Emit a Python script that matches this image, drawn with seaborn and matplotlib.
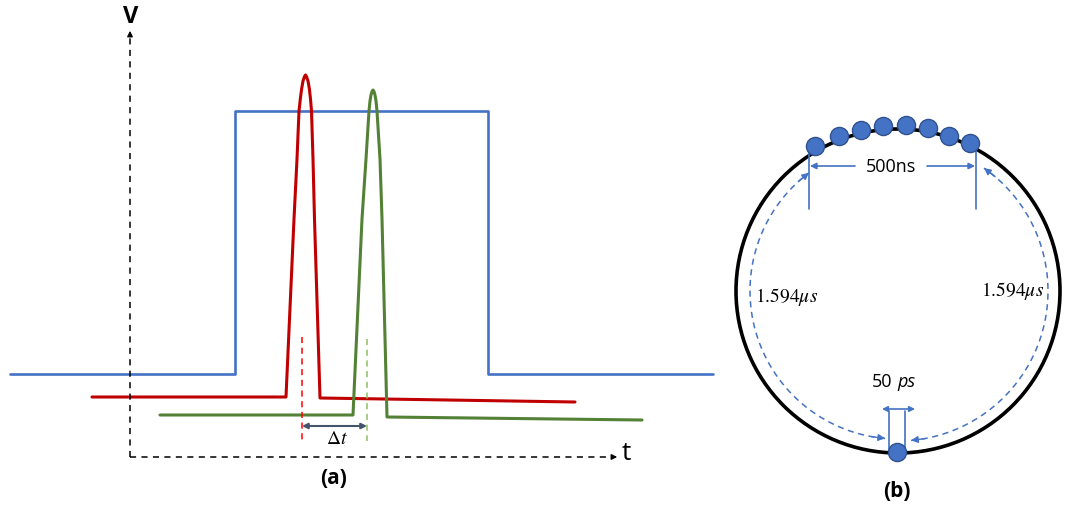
import numpy as np
import pandas as pd
import matplotlib.pyplot as plt
import seaborn as sns
from matplotlib.patches import Circle

# ── data (pixel coordinates of the schematic, y grows downward) ──────────
gate_x = [10, 235, 235, 488, 488, 713]
gate_y = [375, 375, 112, 112, 375, 375]

red_x = [92, 286, 294, 297, 299, 300.3, 301.6, 303, 304.5, 305.5, 306.5, 308,
         309.4, 310.5, 311.5, 313, 314.5, 320, 575]
red_y = [398, 398, 220, 160, 112, 100, 90, 82, 77.5, 76, 77.5, 82,
         90, 100, 112, 160, 220, 399, 403]

green_x = [160, 353, 362, 366, 369, 370, 371, 372, 373, 374, 375, 376, 377,
           380, 382, 387, 642]
green_y = [416, 416, 220, 160, 112, 102, 96, 92.5, 91, 92.5, 96, 102, 112,
           160, 220, 418, 421]

ring_center = (898, 292)
ring_radius = 162

bunch_x = [815, 839, 861, 883, 906, 928, 949, 970, 897]
bunch_y = [147, 137, 131, 127, 126, 129, 137, 144, 453]

# dashed travel arcs: (start angle, end angle) in degrees, radius
left_arc = (95, 233, 148)
right_arc = (85, -55, 150)

BLUE = "#4472c4"
RED = "#c00000"
GREEN = "#538135"

sns.set_theme(style="white")
plt.rcParams["font.family"] = ["Open Sans", "DejaVu Sans"]
plt.rcParams["mathtext.fontset"] = "stix"
plt.rcParams["text.color"] = "black"
plt.rcParams["lines.solid_joinstyle"] = "round"

fig = plt.figure(figsize=(10.68, 5.06), dpi=100)
ax = fig.add_axes([0, 0, 1, 1])

# ── panel (a) ────────────────────────────────────────────────────────────
for xs, ys, col, lw in [(gate_x, gate_y, BLUE, 1.9),
                        (red_x, red_y, RED, 2.2),
                        (green_x, green_y, GREEN, 2.2)]:
    df = pd.DataFrame({"x": xs, "y": ys})
    sns.lineplot(data=df, x="x", y="y", sort=False, estimator=None,
                 color=col, lw=lw, ax=ax)

# axes with arrows
ax.plot([130, 130], [458, 36], ls=(0, (4, 3.5)), color="black", lw=1.1)
ax.annotate("", xy=(130, 29), xytext=(130, 38),
            arrowprops=dict(arrowstyle="-|>", color="black", lw=1, mutation_scale=8))
ax.plot([130, 612], [458, 458], ls=(0, (4, 3.5)), color="black", lw=1.1)
ax.annotate("", xy=(620, 458), xytext=(611, 458),
            arrowprops=dict(arrowstyle="-|>", color="black", lw=1, mutation_scale=8))
ax.text(131, 17, "V", ha="center", va="center", fontsize=17, fontweight="bold")
ax.text(626, 454, "t", ha="center", va="center", fontsize=19)

# timing markers
ax.plot([302, 302], [338, 442], ls=(0, (4, 3)), color="#ff0000", lw=1.1)
ax.plot([367, 367], [340, 442], ls=(0, (4, 3)), color="#8cc063", lw=1.1)
ax.annotate("", xy=(302, 427), xytext=(367, 427),
            arrowprops=dict(arrowstyle="<|-|>", color="#44546a", lw=1.5,
                            mutation_scale=8, shrinkA=0, shrinkB=0))
ax.text(337, 439, r"$\Delta t$", ha="center", va="center", fontsize=14)
ax.text(334, 479, "(a)", ha="center", va="center", fontsize=15, fontweight="bold")

# ── panel (b) ────────────────────────────────────────────────────────────
ax.add_patch(Circle(ring_center, ring_radius, fill=False, color="black", lw=2.6))

for a0, a1, r in [left_arc, right_arc]:
    th = np.radians(np.linspace(a0, a1, 80))
    xs = ring_center[0] + r * np.cos(th)
    ys = ring_center[1] + r * np.sin(th)
    ax.plot(xs, ys, ls=(0, (4, 3)), color=BLUE, lw=1.1)
    for i0, i1 in [(3, 0), (-4, -1)]:
        ax.annotate("", xy=(xs[i1], ys[i1]), xytext=(xs[i0], ys[i0]),
                    arrowprops=dict(arrowstyle="-|>", color=BLUE, lw=1,
                                    mutation_scale=10, shrinkA=0, shrinkB=0))

# 500ns marker
for x in [809, 976]:
    ax.plot([x, x], [150, 210], color=BLUE, lw=1.2)
ax.annotate("", xy=(810, 167), xytext=(855, 167),
            arrowprops=dict(arrowstyle="-|>", color=BLUE, lw=1.2,
                            mutation_scale=9, shrinkA=0, shrinkB=0))
ax.annotate("", xy=(975, 167), xytext=(927, 167),
            arrowprops=dict(arrowstyle="-|>", color=BLUE, lw=1.2,
                            mutation_scale=9, shrinkA=0, shrinkB=0))
ax.text(891, 167, "500ns", ha="center", va="center", fontsize=13)

# 50 ps marker
for x in [889, 905]:
    ax.plot([x, x], [412, 450], color=BLUE, lw=1.2)
ax.annotate("", xy=(882, 410), xytext=(915, 410),
            arrowprops=dict(arrowstyle="<|-|>", color=BLUE, lw=1.2,
                            mutation_scale=8, shrinkA=0, shrinkB=0))
ax.text(892, 382, "50", ha="right", va="center", fontsize=13)
ax.text(897, 382, "ps", ha="left", va="center", fontsize=13, style="italic")

ax.text(787, 297, r"$1.594\mu s$", ha="center", va="center", fontsize=14)
ax.text(1013, 291, r"$1.594\mu s$", ha="center", va="center", fontsize=14)

# electron bunches
bunches = pd.DataFrame({"x": bunch_x, "y": bunch_y})
sns.scatterplot(data=bunches, x="x", y="y", s=170, color=BLUE,
                edgecolor="#2f528f", linewidth=1, zorder=5, ax=ax)

ax.text(897, 492, "(b)", ha="center", va="center", fontsize=15, fontweight="bold")

ax.set_xlim(0, 1068)
ax.set_ylim(506, 0)
ax.axis("off")

fig.savefig("out.png", dpi=100)
